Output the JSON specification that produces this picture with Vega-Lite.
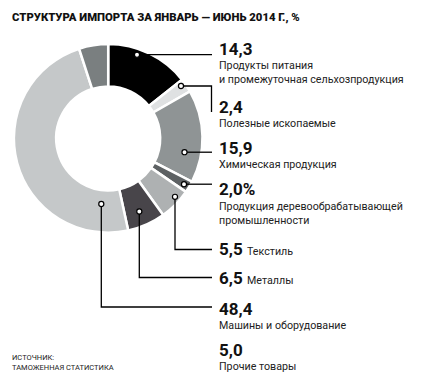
{
  "$schema": "https://vega.github.io/schema/vega-lite/v6.json",
  "width": 436,
  "height": 378,
  "padding": 0,
  "autosize": {"type": "none"},
  "background": "white",
  "config": {"view": {"stroke": null}, "font": "Roboto"},
  "datasets": {
    "shares": [
      {"cat": "Продукты питания", "value": 14.3, "i": 1},
      {"cat": "Полезные ископаемые", "value": 2.4, "i": 2},
      {"cat": "Химическая продукция", "value": 15.9, "i": 3},
      {"cat": "Продукция деревообрабатывающей промышленности", "value": 2.0, "i": 4},
      {"cat": "Текстиль", "value": 5.5, "i": 5},
      {"cat": "Металлы", "value": 6.5, "i": 6},
      {"cat": "Машины и оборудование", "value": 48.4, "i": 7},
      {"cat": "Прочие товары", "value": 5.0, "i": 8}
    ],
    "dots": [
      {"cat": "Продукты питания", "x": 137, "y": 54.7},
      {"cat": "Полезные ископаемые", "x": 181, "y": 86},
      {"cat": "Химическая продукция", "x": 184.5, "y": 152.2},
      {"cat": "Продукция деревообрабатывающей промышленности", "x": 184, "y": 184.2},
      {"cat": "Текстиль", "x": 175, "y": 196.8},
      {"cat": "Металлы", "x": 139.3, "y": 211.5},
      {"cat": "Машины и оборудование", "x": 101.3, "y": 204}
    ],
    "leaders": [
      {"cat": "Продукты питания", "k": 1, "x": 137, "y": 54.7},
      {"cat": "Продукты питания", "k": 2, "x": 212, "y": 54.7},
      {"cat": "Полезные ископаемые", "k": 1, "x": 181, "y": 86},
      {"cat": "Полезные ископаемые", "k": 2, "x": 211.5, "y": 86},
      {"cat": "Полезные ископаемые", "k": 3, "x": 211.5, "y": 112},
      {"cat": "Химическая продукция", "k": 1, "x": 184.5, "y": 152.2},
      {"cat": "Химическая продукция", "k": 2, "x": 212, "y": 152.2},
      {"cat": "Продукция деревообрабатывающей промышленности", "k": 1, "x": 184, "y": 184.2},
      {"cat": "Продукция деревообрабатывающей промышленности", "k": 2, "x": 212, "y": 184.2},
      {"cat": "Текстиль", "k": 1, "x": 175, "y": 196.8},
      {"cat": "Текстиль", "k": 2, "x": 175, "y": 249.5},
      {"cat": "Текстиль", "k": 3, "x": 212, "y": 249.5},
      {"cat": "Металлы", "k": 1, "x": 139.3, "y": 211.5},
      {"cat": "Металлы", "k": 2, "x": 139.3, "y": 277.5},
      {"cat": "Металлы", "k": 3, "x": 212, "y": 277.5},
      {"cat": "Машины и оборудование", "k": 1, "x": 101.3, "y": 204},
      {"cat": "Машины и оборудование", "k": 2, "x": 101.3, "y": 307},
      {"cat": "Машины и оборудование", "k": 3, "x": 212, "y": 307}
    ],
    "numbers": [
      {"t": "14,3", "x": 219, "y": 55.3},
      {"t": "2,4", "x": 219, "y": 113},
      {"t": "15,9", "x": 219, "y": 154},
      {"t": "2,0%", "x": 219, "y": 194.5},
      {"t": "5,5", "x": 219, "y": 254.5},
      {"t": "6,5", "x": 219, "y": 284},
      {"t": "48,4", "x": 219, "y": 314.5},
      {"t": "5,0", "x": 219, "y": 356}
    ],
    "labels": [
      {"t": "Продукты питания", "x": 219, "y": 69},
      {"t": "и промежуточная сельхозпродукция", "x": 219, "y": 83},
      {"t": "Полезные ископаемые", "x": 219, "y": 127},
      {"t": "Химическая продукция", "x": 219, "y": 168},
      {"t": "Продукция деревообрабатывающей", "x": 219, "y": 209.5},
      {"t": "промышленности", "x": 219, "y": 224},
      {"t": "Текстиль", "x": 247, "y": 254.5},
      {"t": "Металлы", "x": 247, "y": 284},
      {"t": "Машины и оборудование", "x": 219, "y": 328.5},
      {"t": "Прочие товары", "x": 219, "y": 370}
    ],
    "notes": [
      {"t": "ИСТОЧНИК:", "x": 12, "y": 359.5},
      {"t": "ТАМОЖЕННАЯ СТАТИСТИКА", "x": 12, "y": 370}
    ],
    "heading": [
      {"t": "СТРУКТУРА ИМПОРТА ЗА ЯНВАРЬ — ИЮНЬ 2014 Г., %", "x": 12, "y": 20.7}
    ]
  },
  "encoding": {
    "x": {"type": "quantitative", "scale": {"domain": [0, 436]}, "axis": null},
    "y": {"type": "quantitative", "scale": {"domain": [0, 378], "reverse": true}, "axis": null}
  },
  "layer": [
    {
      "data": {"name": "shares"},
      "mark": {"type": "arc", "outerRadius": 94.3, "innerRadius": 52, "stroke": "white", "strokeWidth": 2.5},
      "encoding": {
        "x": {"datum": 108.2},
        "y": {"datum": 138.4},
        "theta": {"field": "value", "type": "quantitative", "stack": true},
        "order": {"field": "i", "type": "quantitative"},
        "color": {
          "field": "cat", "type": "nominal", "legend": null,
          "scale": {
            "domain": ["Продукты питания", "Полезные ископаемые", "Химическая продукция", "Продукция деревообрабатывающей промышленности", "Текстиль", "Металлы", "Машины и оборудование", "Прочие товары"],
            "range": ["#000000", "#dfe1e2", "#8f9495", "#5d6163", "#aeb1b2", "#48454a", "#c5c8c9", "#7a7f80"]
          }
        }
      }
    },
    {
      "data": {"name": "leaders"},
      "mark": {"type": "line", "color": "black", "strokeWidth": 1.3, "interpolate": "linear"},
      "encoding": {
        "x": {"field": "x"},
        "y": {"field": "y"},
        "detail": {"field": "cat", "type": "nominal"},
        "order": {"field": "k", "type": "quantitative"}
      }
    },
    {
      "data": {"name": "dots"},
      "mark": {"type": "point", "filled": true, "fill": "white", "stroke": "black", "strokeWidth": 1.2, "size": 26, "opacity": 1},
      "encoding": {"x": {"field": "x"}, "y": {"field": "y"}}
    },
    {
      "data": {"name": "numbers"},
      "mark": {"type": "text", "align": "left", "baseline": "alphabetic", "font": "Roboto", "fontWeight": "bold", "fontSize": 17, "color": "#111111"},
      "encoding": {"x": {"field": "x"}, "y": {"field": "y"}, "text": {"field": "t"}}
    },
    {
      "data": {"name": "labels"},
      "mark": {"type": "text", "align": "left", "baseline": "alphabetic", "font": "Roboto", "fontSize": 10.7, "color": "#222222"},
      "encoding": {"x": {"field": "x"}, "y": {"field": "y"}, "text": {"field": "t"}}
    },
    {
      "data": {"name": "notes"},
      "mark": {"type": "text", "align": "left", "baseline": "alphabetic", "font": "Roboto", "fontSize": 7.5, "color": "#222222"},
      "encoding": {"x": {"field": "x"}, "y": {"field": "y"}, "text": {"field": "t"}}
    },
    {
      "data": {"name": "heading"},
      "mark": {"type": "text", "align": "left", "baseline": "alphabetic", "font": "Roboto", "fontWeight": 900, "fontSize": 11.3, "color": "#111111"},
      "encoding": {"x": {"field": "x"}, "y": {"field": "y"}, "text": {"field": "t"}}
    }
  ]
}
